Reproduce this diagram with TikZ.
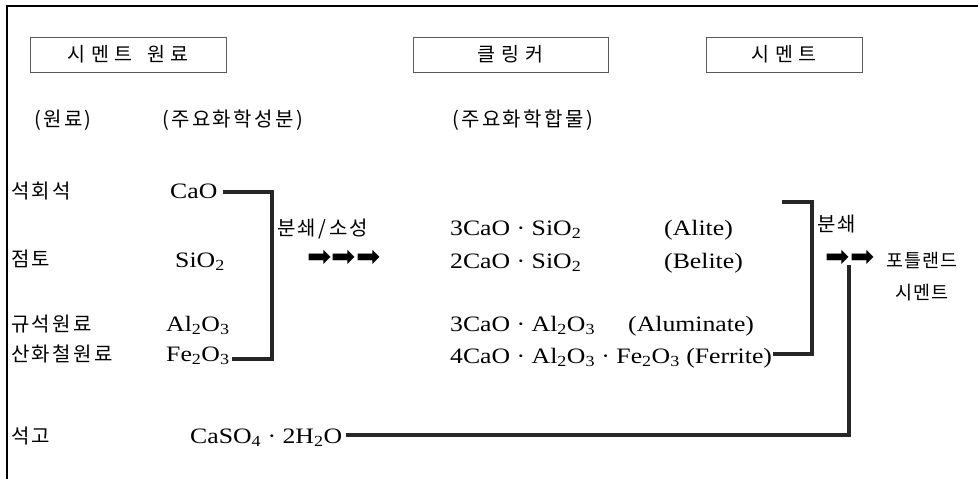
\documentclass[tikz,border=0pt]{standalone}
\usepackage{fontspec}
\setmainfont{Liberation Serif}[FakeStretch=1.17]
\newfontfamily\kr[LetterSpace=12]{Noto Sans CJK KR}
\newfontfamily\krsm[LetterSpace=6]{Noto Sans CJK KR}
\newfontfamily\krbox[LetterSpace=30]{Noto Sans CJK KR}
\newfontfamily\symf{DejaVu Sans}
\begin{document}
\begin{tikzpicture}[x=1pt,y=-1pt,
  kor/.style={font=\kr\fontsize{20}{23}\selectfont, inner sep=0pt, anchor=base west},
  korsm/.style={font=\krsm\fontsize{18.5}{21}\selectfont, inner sep=0pt, anchor=base west},
  lat/.style={font=\fontsize{22}{26}\selectfont, inner sep=0pt, anchor=base west},
  hbox/.style={draw=black!65, line width=1pt, inner sep=0pt, minimum height=35pt,
    font=\krbox\fontsize{19.5}{22}\selectfont},
  bracket/.style={line width=3.8pt, draw=black!85},
  framel/.style={line width=1.4pt, draw=black},
  arr/.style={font=\symf\fontsize{29}{31}\selectfont, inner sep=0pt}
]
\useasboundingbox (0,0) rectangle (978,479);
% frame
\coordinate (fTR) at (978,6);
\coordinate (fTL) at (7,6);
\coordinate (fBL) at (7,479);
\draw[framel] (fTR) -- (fTL) -- (fBL);

% header boxes
\node[hbox, minimum width=196pt] (b1) at (128,54.5) {시멘트\hspace{4pt} 원료};
\node[hbox, minimum width=195pt] (b2) at (510.5,54.5) {클링커};
\node[hbox, minimum width=156pt] (b3) at (784,54.5) {시멘트};

% column headers
\node[kor] (h1) at (34,126) {(원료)};
\node[kor] (h2) at (162,126) {(주요화학성분)};
\node[kor] (h3) at (452,126) {(주요화학합물)};

% raw materials
\node[kor] (r1) at (11,198) {석회석};
\node[kor] (r2) at (11,266) {점토};
\node[kor] (r3) at (11,331) {규석원료};
\node[kor] (r4) at (11,361) {산화철원료};
\node[kor] (r5) at (11,443) {석고};

% chemical components
\node[lat] (c1) at (170,198) {CaO};
\node[lat] (c2) at (175,267) {SiO\textsubscript{2}};
\node[lat] (c3) at (166,331) {Al\textsubscript{2}O\textsubscript{3}};
\node[lat] (c4) at (166,361) {Fe\textsubscript{2}O\textsubscript{3}};
\node[lat] (c5) at (190,443) {CaSO\textsubscript{4} · 2H\textsubscript{2}O};

% process 1
\node[kor] (p1) at (277,235) {분쇄/소성};
\node[arr] (a1) at (344,258) {➡➡➡};

% clinker compounds
\node[lat] (k1) at (450,235) {3CaO · SiO\textsubscript{2}};
\node[lat] (k2) at (450,268) {2CaO · SiO\textsubscript{2}};
\node[lat] (k3) at (450,331) {3CaO · Al\textsubscript{2}O\textsubscript{3}};
\node[lat] (k4) at (450,363) {4CaO · Al\textsubscript{2}O\textsubscript{3} · Fe\textsubscript{2}O\textsubscript{3} (Ferrite)};
\node[lat] (n1) at (664,235) {(Alite)};
\node[lat] (n2) at (664,268) {(Belite)};
\node[lat] (n3) at (628,331) {(Aluminate)};

% process 2
\node[kor] (p2) at (817,231) {분쇄};
\node[arr] (a2) at (850,258) {➡➡};
\node[korsm] (o1) at (886,267) {포틀랜드};
\node[korsm] (o2) at (895,299) {시멘트};

% bracket 1
\coordinate (q1) at (272,192);
\coordinate (q2) at (272,359);
\draw[bracket] ([xshift=5pt]c1.east |- q1) -- (q1) -- (q2) -- ([xshift=2pt]c4.east |- q2);
% bracket 2
\coordinate (s0) at (782,202);
\coordinate (s1) at (812,202);
\coordinate (s2) at (812,354);
\draw[bracket] (s0) -- (s1) -- (s2) -- ([xshift=1pt]k4.east |- s2);
% gypsum line
\coordinate (g1) at (849,435);
\coordinate (g2) at (849,265);
\draw[bracket] ([xshift=4pt]c5.east |- g1) -- (g1) -- (g2);
\end{tikzpicture}
\end{document}
